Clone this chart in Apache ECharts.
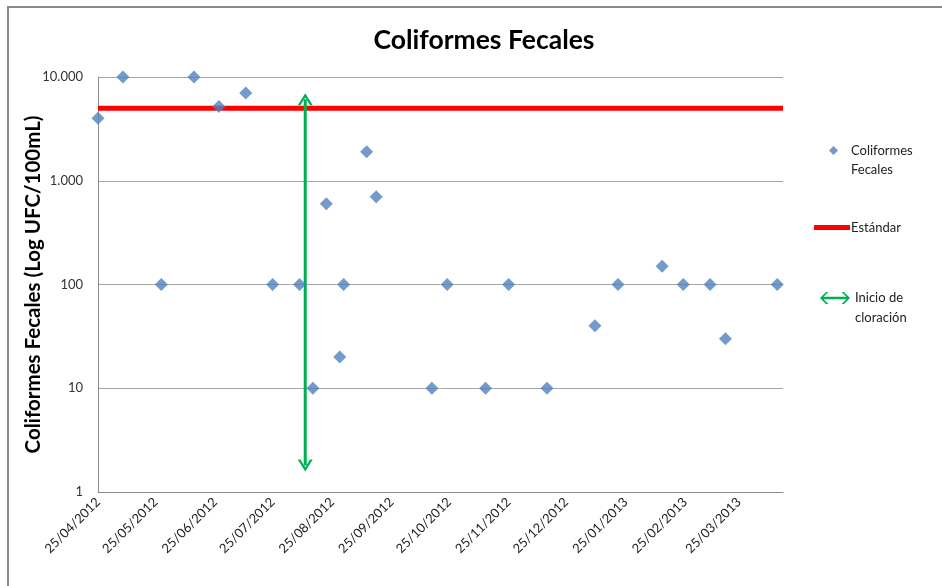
<!DOCTYPE html>
<html>
<head>
<meta charset="utf-8">
<script src="https://cdn.jsdelivr.net/npm/echarts@6/dist/echarts.min.js"></script>
<style>html,body{margin:0;padding:0;background:#fff;}#c{width:942px;height:586px;}</style>
</head>
<body>
<div id="c"></div>
<script>
// ---- data ----
var sampleDates = ['2012-04-25','2012-05-08','2012-05-28','2012-06-14','2012-06-27','2012-07-11','2012-07-25','2012-08-08','2012-08-15','2012-08-22','2012-08-29','2012-08-31','2012-09-12','2012-09-17','2012-10-16','2012-10-24','2012-11-13','2012-11-25','2012-12-15','2013-01-09','2013-01-21','2013-02-13','2013-02-24','2013-03-10','2013-03-18','2013-04-14'];
var coliformValues = [4000,10000,100,10000,5200,7000,100,100,10,600,20,100,1900,700,10,100,10,100,10,40,100,150,100,100,30,100];
var standardDates = ['2012-04-25','2013-04-17'];
var standardValues = [5000,5000];
var chlorinationDates = ['2012-08-11','2012-08-11'];
var chlorinationValues = [6100,1.8];
var tickDates = ['2012-04-25','2012-05-25','2012-06-25','2012-07-25','2012-08-25','2012-09-25','2012-10-25','2012-11-25','2012-12-25','2013-01-25','2013-02-25','2013-03-25'];
var yTicks = [1,10,100,1000,10000];

function ts(s){var p=s.split('-');return new Date(+p[0],+p[1]-1,+p[2]).getTime();}
function pad(n){return (n<10?'0':'')+n;}
function fmtDate(v){var d=new Date(v);return pad(d.getDate())+'/'+pad(d.getMonth()+1)+'/'+d.getFullYear();}
function fmtNum(v){return String(Math.round(v)).replace(/\B(?=(\d{3})+(?!\d))/g,'.');}

var FONT = 'Lato, "Open Sans", sans-serif';
var chart = echarts.init(document.getElementById('c'));
var scatterData = sampleDates.map(function(d,i){return [ts(d),coliformValues[i]];});
var stdData = standardDates.map(function(d,i){return [ts(d),standardValues[i]];});
var chlorData = chlorinationDates.map(function(d,i){
  return {value:[ts(d),chlorinationValues[i]], symbolRotate: i===0?0:180};
});
var chevron = 'path://M0,10 L5,0 L10,10 L8.2,10 L5,3.6 L1.8,10 Z';
var dblArrow = 'path://M0,6 L6,0 L8.4,0 L3.6,4.8 L26.4,4.8 L21.6,0 L24,0 L30,6 L24,12 L21.6,12 L26.4,7.2 L3.6,7.2 L8.4,12 L6,12 Z';

chart.setOption({
  animation:false,
  backgroundColor:'#fff',
  graphic:[{type:'rect',shape:{x:8,y:7,width:980,height:640},style:{fill:'none',stroke:'#8a8a8a',lineWidth:2},silent:true,z:-1}],
  title:{text:'Coliformes Fecales',left:479,top:22,textAlign:'center',
    textStyle:{fontFamily:FONT,fontWeight:'bold',fontSize:26.5,color:'#000'}},
  grid:{left:98,right:159,top:77,bottom:94,containLabel:false},
  legend:[
    {data:[{name:'Coliformes Fecales',icon:'diamond'}],left:824,top:117,itemWidth:9,itemHeight:9,
     formatter:function(){return ' \nColiformes\nFecales';},
     textStyle:{fontFamily:FONT,fontSize:13,color:'#222',lineHeight:19,padding:[0,0,0,8]}},
    {data:[{name:'Estándar',icon:'rect'}],left:809,top:216,itemWidth:36,itemHeight:5,
     textStyle:{fontFamily:FONT,fontSize:13,color:'#222',padding:[0,0,0,-4]}},
    {data:[{name:'Inicio de cloración',icon:dblArrow}],left:815,top:263,itemWidth:30,itemHeight:12,
     formatter:function(){return ' \nInicio de\ncloración';},
     textStyle:{fontFamily:FONT,fontSize:13,color:'#222',lineHeight:20}}
  ],
  xAxis:{type:'value',min:ts(standardDates[0]),max:ts(standardDates[1]),
    axisLine:{show:true,lineStyle:{color:'#8c8c8c',width:1}},
    axisTick:{show:false},
    splitLine:{show:false},
    axisLabel:{customValues:tickDates.map(ts),rotate:45,formatter:fmtDate,margin:8,
      fontFamily:FONT,fontSize:13,color:'#222'}},
  yAxis:{type:'log',logBase:10,min:yTicks[0],max:yTicks[yTicks.length-1],
    name:'Coliformes Fecales (Log UFC/100mL)',nameLocation:'middle',nameGap:54,nameMoveOverlap:false,
    nameTextStyle:{fontFamily:FONT,fontWeight:'bold',fontSize:20.5,color:'#000'},
    axisLine:{show:true,lineStyle:{color:'#8c8c8c'}},
    axisTick:{show:false},
    splitLine:{show:true,lineStyle:{color:'#a6a6a6',width:1}},
    axisLabel:{formatter:fmtNum,margin:15,fontFamily:FONT,fontSize:13,color:'#333'}},
  series:[
    {name:'Coliformes Fecales',type:'scatter',data:scatterData,symbol:'diamond',symbolSize:13,
     itemStyle:{color:'#4F81BD'},z:5},
    {name:'Estándar',type:'line',data:stdData,showSymbol:false,symbol:'none',
     lineStyle:{color:'#FF0000',width:5},itemStyle:{color:'#FF0000'},z:3},
    {name:'Inicio de cloración',type:'line',data:chlorData,symbol:chevron,symbolSize:[15,12],
     showSymbol:true,lineStyle:{color:'#00B050',width:3},itemStyle:{color:'#00B050'},z:4}
  ]
});
</script>
</body>
</html>
